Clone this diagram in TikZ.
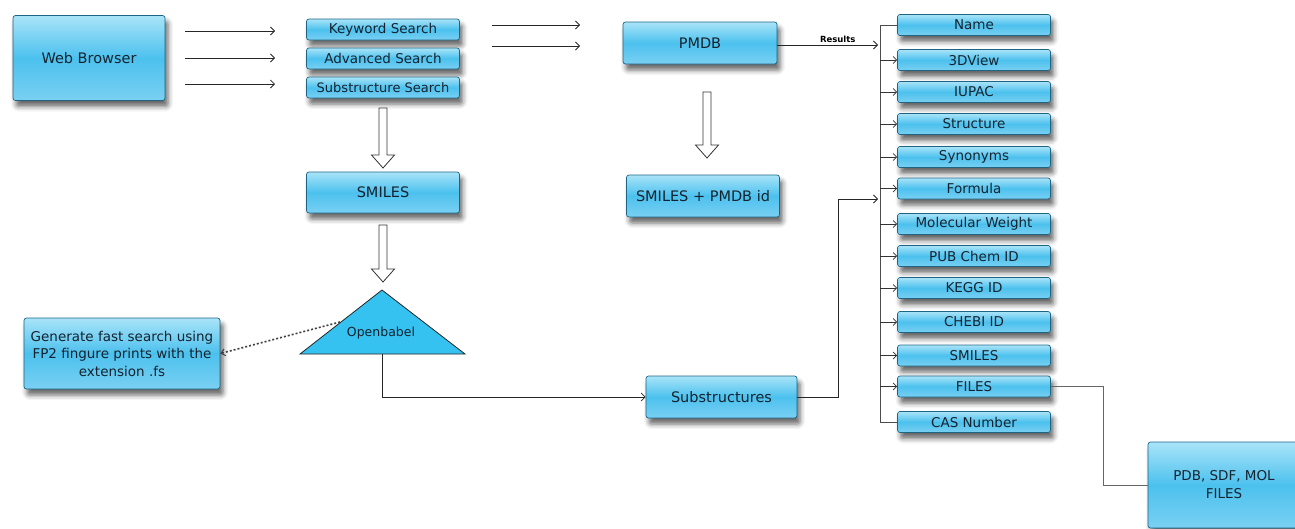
\documentclass[tikz,border=0pt]{standalone}
\usepackage{fontspec}
\setmainfont{DejaVu Sans}
\usetikzlibrary{arrows.meta,shadows.blur}
\definecolor{boxtop}{HTML}{A9E4F8}
\definecolor{boxmid}{HTML}{4CC1EE}
\definecolor{boxbot}{HTML}{7AD0F2}
\definecolor{boxline}{HTML}{1E6584}
\definecolor{tri}{HTML}{35C2F0}
\definecolor{txt}{HTML}{15222E}
\tikzset{
  box/.style={draw=boxline, line width=0.7pt, rounded corners=2.5pt,
    top color=boxtop, bottom color=boxbot, middle color=boxmid,
    text=txt, align=center, inner sep=1pt,
    font=\fontsize{13.5}{16}\selectfont,
    blur shadow={shadow xshift=3pt, shadow yshift=-6pt, shadow blur radius=5pt, shadow opacity=60}},
  sbox/.style={box, minimum width=153pt, minimum height=21pt},
  rbox/.style={box, minimum width=153pt, minimum height=21pt},
  conn/.style={draw=black!85, line width=0.8pt},
  arr/.style={conn, -{Straight Barb[length=4pt,width=8pt]}},
  hollow/.style={draw=black!80, fill=white, line width=0.8pt},
}
\newcommand\hollowarrow[3]{%
  \draw[hollow] (#1-4,#2) -- (#1+4,#2) -- (#1+4,#3-13) -- (#1+11.5,#3-13) -- (#1,#3)
    -- (#1-11.5,#3-13) -- (#1-4,#3-13) -- cycle;}
\begin{document}
\begin{tikzpicture}[x=1pt,y=-1pt]
\useasboundingbox (0,0) rectangle (1295,528);
% left
\node[box, minimum width=152pt, minimum height=85pt, font=\fontsize{14.5}{17}\selectfont] (web) at (89,58) {Web Browser};
\node[sbox] (kw) at (383,29.5) {Keyword Search};
\node[sbox] (adv) at (383,58.5) {Advanced Search};
\node[sbox, font=\fontsize{13}{16}\selectfont] (sub) at (383,87.5) {Substructure Search};
\coordinate (w1s) at (185,31); \coordinate (w1e) at (275,31);
\coordinate (w2s) at (185,58); \coordinate (w2e) at (275,58);
\coordinate (w3s) at (185,84); \coordinate (w3e) at (275,84);
\draw[arr] (w1s) -- (w1e);
\draw[arr] (w2s) -- (w2e);
\draw[arr] (w3s) -- (w3e);
\coordinate (p1s) at (492,25); \coordinate (p1e) at (580,25);
\coordinate (p2s) at (492,46); \coordinate (p2e) at (580,46);
\draw[arr] (p1s) -- (p1e);
\draw[arr] (p2s) -- (p2e);
\node[box, minimum width=154pt, minimum height=42pt, font=\fontsize{14.5}{17}\selectfont] (pmdb) at (700,43) {PMDB};
\node[box, minimum width=153pt, minimum height=42pt, font=\fontsize{14.5}{17}\selectfont] (spid) at (703,196) {SMILES + PMDB id};
\node[box, minimum width=153pt, minimum height=41pt, font=\fontsize{14.5}{17}\selectfont] (smiles) at (383,192.5) {SMILES};
\hollowarrow{383}{108}{168}
\hollowarrow{383}{225}{282}
\hollowarrow{707}{92}{158}
% triangle
\draw[fill=tri, draw=black!85, line width=0.8pt] (382,290) -- (465,354) -- (300,354) -- cycle;
\node[text=txt, font=\fontsize{12.5}{14}\selectfont] (ob) at (381,333) {Openbabel};
\coordinate (obb) at (382,354);
\coordinate (obl) at (340,322);
\node[box, minimum width=196pt, minimum height=71pt, font=\fontsize{13.5}{17.5}\selectfont] (gen) at (122,353.5)
  {Generate fast search using\\FP2 fingure prints with the\\extension .fs};
\draw[conn, draw=black!75, dash pattern=on 2pt off 2pt, line width=1.6pt, -{Straight Barb[length=4pt,width=7pt,line width=1pt]}] (obl) -- (gen.east);
\node[box, minimum width=151pt, minimum height=42pt, font=\fontsize{14.5}{17}\selectfont] (subs) at (721.5,397) {Substructures};
\draw[arr] (obb) |- (subs.west);
% right column
\node[rbox] (n1) at (974,25) {Name};
\node[rbox] (n2) at (974,60) {3DView};
\node[rbox] (n3) at (974,92) {IUPAC};
\node[rbox] (n4) at (974,124) {Structure};
\node[rbox] (n5) at (974,157) {Synonyms};
\node[rbox] (n6) at (974,188.5) {Formula};
\node[rbox] (n7) at (974,224) {Molecular Weight};
\node[rbox] (n8) at (974,256) {PUB Chem ID};
\node[rbox] (n9) at (974,288) {KEGG ID};
\node[rbox] (n10) at (974,322) {CHEBI ID};
\node[rbox] (n11) at (974,355.5) {SMILES};
\node[rbox] (n12) at (974,386.5) {FILES};
\node[rbox] (n13) at (974,422) {CAS Number};
\coordinate (vt) at (880,25);
\coordinate (vb) at (880,422);
\draw[conn, draw=black!70] (n1.west) -- (vt) -- (vb) -- (n13.west);
\foreach \i in {2,...,12} {
  \draw[arr, draw=black!80, -{Straight Barb[length=3.5pt,width=7pt]}] (880,0 |- n\i.west) -- (n\i.west);
}
\coordinate (res) at (878,45);
\draw[arr] (pmdb.east |- res) -- node[above=-1pt, pos=0.6, font=\fontsize{8.5}{9}\selectfont\bfseries] (rlab) {Results} (res);
\coordinate (sj) at (838,397);
\coordinate (sk) at (878,199);
\draw[arr] (subs.east) -- (sj) |- (sk);
% files
\node[box, minimum width=152pt, minimum height=86pt, font=\fontsize{13.5}{18}\selectfont] (pdb) at (1224,485) {PDB, SDF, MOL\\FILES};
\coordinate (fj) at (1103,386.5);
\draw[conn, draw=black!60] (n12.east) -- (fj) |- (pdb.west);
\end{tikzpicture}
\end{document}
